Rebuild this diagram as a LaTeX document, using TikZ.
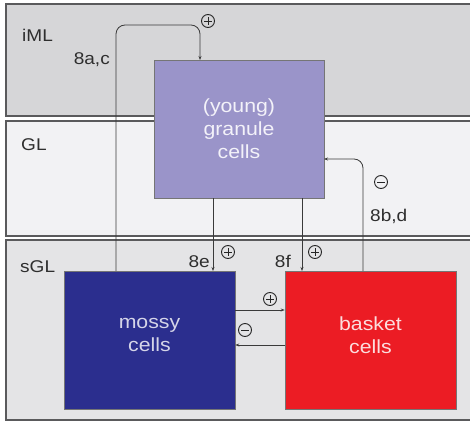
\documentclass[tikz,border=0pt]{standalone}
\usepackage{fontspec}
\setmainfont{Liberation Sans}[FakeStretch=1.12]
\usetikzlibrary{arrows.meta}
\definecolor{bandA}{HTML}{D6D6D8}
\definecolor{bandB}{HTML}{F2F2F4}
\definecolor{bandC}{HTML}{E4E4E6}
\definecolor{granC}{HTML}{9A94C9}
\definecolor{mossC}{HTML}{2B2E8E}
\definecolor{baskC}{HTML}{EC1C24}
\definecolor{lineC}{HTML}{3A3A3A}
\definecolor{bordC}{HTML}{5A5A5C}
\tikzset{
  band/.style={draw=bordC, line width=1.2pt},
  cellbox/.style={draw=lineC!70, line width=0.6pt, minimum width=170pt, minimum height=138pt, inner sep=0pt},
  celltext/.style={align=center, font=\fontsize{19}{23}\selectfont, inner sep=0pt},
  conn/.style={draw=lineC, line width=0.8pt, -{Stealth[length=4pt,width=3pt]}},
  lbl/.style={font=\fontsize{17}{20}\selectfont, text=black!82, inner sep=0pt},
  sign/.style={circle, draw=black!85, line width=0.9pt, minimum size=13pt, inner sep=0pt},
  plus/.style={sign, path picture={\draw[black!85, line width=0.9pt] ([xshift=-3.8pt]path picture bounding box.center) -- ([xshift=3.8pt]path picture bounding box.center); \draw[black!85, line width=0.9pt] ([yshift=-3.8pt]path picture bounding box.center) -- ([yshift=3.8pt]path picture bounding box.center);}},
  minus/.style={sign, path picture={\draw[black!85, line width=0.9pt] ([xshift=-3.8pt]path picture bounding box.center) -- ([xshift=3.8pt]path picture bounding box.center);}}
}
\begin{document}
\begin{tikzpicture}[x=1pt,y=-1pt]
\useasboundingbox (0,0) rectangle (470,422);
\fill[white] (0,0) rectangle (470,422);
% bands
\path[band, fill=bandA] (6,4) rectangle (476,116);
\path[band, fill=bandB] (6,121) rectangle (476,236);
\path[band, fill=bandC] (6,240) rectangle (476,420);
\node[lbl, anchor=base west] (iml) at (22,42) {iML};
\node[lbl, anchor=base west] (gl) at (21,150) {GL};
\node[lbl, anchor=base west] (sgl) at (20,272) {sGL};
% cells
\node[cellbox, fill=granC] (gran) at (239,129) {};
\node[celltext, text=white!88!granC] (grant) at (239,129) {(young)\\granule\\cells};
\node[cellbox, fill=mossC, minimum width=171pt] (moss) at (149.5,340.5) {};
\node[celltext, text=white!80!mossC] (mosst) at (149.5,335) {mossy\\cells};
\node[cellbox, fill=baskC, minimum width=171pt] (bask) at (370.5,340.5) {};
\node[celltext, text=white!85!baskC] (baskt) at (370.5,335) {basket\\cells};
% connectors
\coordinate (mtop) at (116,271);
\coordinate (gtop) at (200,60);
\draw[conn, rounded corners=9pt] (mtop) -- (116,25) -- (200,25) -- (gtop);
\node[plus] (p1) at (208,21) {};
\node[lbl, anchor=base east] (l8ac) at (110,65) {8a,c};

\coordinate (ga) at (213,198);
\coordinate (ma) at (213,271);
\draw[conn] (ga) -- (ma);
\node[plus] (p2) at (228,252) {};
\node[lbl, anchor=base east] (l8e) at (210,267) {8e};

\coordinate (gb) at (302,198);
\coordinate (ba) at (302,271);
\draw[conn] (gb) -- (ba);
\node[plus] (p3) at (315,252) {};
\node[lbl, anchor=base east] (l8f) at (291,267) {8f};

\coordinate (btop) at (363,271);
\coordinate (gright) at (324,159);
\draw[conn, rounded corners=9pt] (btop) -- (363,159) -- (gright);
\node[minus] (m1) at (381,182) {};
\node[lbl, anchor=base west] (l8bd) at (370,221) {8b,d};

\draw[conn] (moss.east |- 0,310) -- (bask.west |- 0,310);
\node[plus] (p4) at (270,299) {};
\draw[conn] (bask.west |- 0,345) -- (moss.east |- 0,345);
\node[minus] (m2) at (245,330) {};
\end{tikzpicture}
\end{document}
